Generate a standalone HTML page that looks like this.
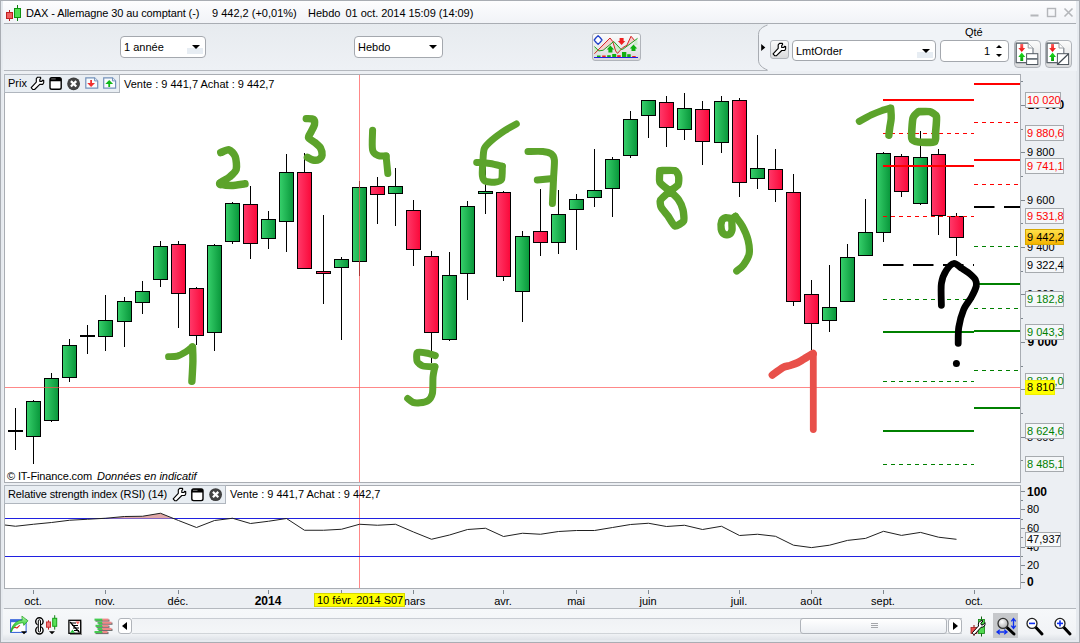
<!DOCTYPE html>
<html><head><meta charset="utf-8"><title>DAX</title>
<style>
*{box-sizing:border-box;margin:0;padding:0}
html,body{width:1080px;height:643px;overflow:hidden;background:#e9edf2;font-family:"Liberation Sans",sans-serif;font-size:11px;color:#000}
#win{position:absolute;left:0;top:0;width:1080px;height:643px;background:#e6eaef;border:1px solid #a9adb3}
.abs{position:absolute}
#title{left:3px;top:1px;width:1073px;height:22px;background:linear-gradient(#fdfdfe,#f1f3f7)}
#tsep{left:4px;top:23px;width:1072px;height:1px;background:#a9adb3}
#toolbar{left:3px;top:24px;width:1073px;height:46px;background:linear-gradient(#e7ebef,#eef1f5)}
#tbsep{left:4px;top:70px;width:1072px;height:1px;background:#b4b8be}
.txt{position:absolute;white-space:pre;line-height:13px;height:13px}
.dd{position:absolute;background:#fff;border:1px solid #a4a8ae;border-radius:4px}
.arrow{position:absolute;width:0;height:0;border-left:4px solid transparent;border-right:4px solid transparent;border-top:4.5px solid #000}
.btn{position:absolute;border:1px solid #b0b4ba;border-radius:3px;background:linear-gradient(#fbfbfb,#d9dadc)}
.pb{position:absolute;border:1px solid #a8a8a8;font-size:11px;line-height:13px;padding-left:1px;padding-top:1px;white-space:pre}
.ax{position:absolute;font-size:11px;line-height:13px;height:13px;white-space:pre}
.axb{font-weight:bold}
.tl{position:absolute;top:595px;font-size:11px;line-height:13px;height:13px;white-space:pre;transform:translateX(-50%)}
</style></head><body>
<div id="win"></div>
<div id="title" class="abs"></div>
<div id="tsep" class="abs"></div>
<div id="toolbar" class="abs"></div>
<div id="tbsep" class="abs"></div>

<!-- title -->
<svg class="abs" style="left:0;top:0" width="30" height="24">
<rect x="9" y="10" width="1" height="11" fill="#b02020"/><rect x="6.5" y="12.5" width="6" height="6" fill="#f06060" stroke="#c02020"/>
<rect x="17" y="5" width="1" height="16" fill="#108010"/><rect x="14.5" y="8.5" width="6" height="9" fill="#50e050" stroke="#109010"/>
</svg>
<div class="txt" id="t_title" style="left:26px;top:7px;letter-spacing:-0.1px">DAX - Allemagne 30 au comptant (-)</div>
<div class="txt" id="t_t2" style="left:212px;top:7px">9 442,2 (+0,01%)</div>
<div class="txt" id="t_t3" style="left:308px;top:7px">Hebdo</div>
<div class="txt" id="t_t4" style="left:345.5px;top:7px;letter-spacing:-0.05px">01 oct. 2014 15:09 (14:09)</div>
<!-- window controls -->
<svg class="abs" style="left:1025px;top:4px" width="52" height="16">
<rect x="5.5" y="10.5" width="8" height="2" fill="#b4b6ba"/>
<rect x="22.5" y="4.5" width="8" height="8" fill="none" stroke="#b4b6ba" stroke-width="1.4"/>
<path d="M39.5 4.5 L47.5 12.5 M47.5 4.5 L39.5 12.5" stroke="#b4b6ba" stroke-width="1.6"/>
</svg>

<!-- toolbar -->
<div class="dd" style="left:120px;top:36px;width:86px;height:22px"></div>
<div class="abs" style="left:187px;top:48px;width:16px;height:6px;background:#e7edf3"></div>
<div class="abs" style="left:424px;top:48px;width:16px;height:6px;background:#e7edf3"></div>
<div class="txt" id="t_annee" style="left:124px;top:41px">1 année</div>
<div class="arrow" style="left:192px;top:45px"></div>
<div class="dd" style="left:354px;top:36px;width:89px;height:22px"></div>
<div class="txt" id="t_hebdo" style="left:358px;top:41px">Hebdo</div>
<div class="arrow" style="left:429px;top:45px"></div>

<div class="btn" style="left:592px;top:33px;width:49px;height:28px"></div>
<svg class="abs" style="left:592px;top:33px" width="49" height="28">
<path d="M2.4 20.75 L18 5 L20.75 8.5 L21.75 8.5 L11.1 17.25 L6.75 17.9 L2.4 13.5 Z" fill="#f8d0d0"/>
<path d="M2.4 13.5 L6.75 17.9 L2.4 20.75 Z" fill="#cdeccd"/>
<path d="M21.75 8.5 L29.25 16.6 L30.5 14.75 L25.5 20.4 L23.6 17.9 L20.75 8.5 Z" fill="#cdeccd"/>
<path d="M31.1 16 L34.9 12.25 L39 3.25 L43 8 L38 11 Z" fill="#f8d0d0"/>
<path d="M43 8 L45.5 5.4 L45.5 12 L41 12 Z" fill="#cdeccd"/>
<path d="M2.4 20.75 L18 5 L20.75 8.5 L23.6 17.9 L25.5 20.4 L30.5 14.75 L34.9 12.25 L39 3.25 L43 8" fill="none" stroke="#d42020" stroke-width="1"/>
<path d="M2.4 13.5 L6.75 17.9 L11.1 17.25 L21.75 8.5 L29.25 16.6 L31.1 16 L38 11 L45.5 5.4" fill="none" stroke="#20a020" stroke-width="1"/>
<path d="M6.100 2.800 L8 4.500 L10 7 L8 9.500 L6.100 11.200 L4.200 9.500 L2.200 7 L4.200 4.500 Z" fill="#fff" stroke="#2040c8" stroke-width="1.300" stroke-linejoin="round"/>
<path d="M27.600 5 h4 v3 h1.700 l-3.700 4 l-3.700 -4 h1.700 z" fill="#f02020"/>
<path d="M16.400 19.500 h4 v-3 h1.700 l-3.700 -4 l-3.700 4 h1.700 z" fill="#10b010"/>
<path d="M39.500 18 h4 v-2.500 h1.700 l-3.700 -4 l-3.700 4 h1.700 z" fill="#10b010"/>
<rect x="5" y="22.500" width="3.500" height="1.500" fill="#10b010"/><rect x="10.200" y="22.500" width="3.500" height="1.500" fill="#f02020"/><rect x="15.200" y="22.200" width="3.500" height="1.800" fill="#10b010"/><rect x="20.200" y="21" width="4" height="3" fill="#10b010"/><rect x="25.200" y="22.200" width="3.500" height="1.800" fill="#f02020"/><rect x="30" y="19" width="4.300" height="5" fill="#10b010"/><rect x="35.200" y="21.200" width="3.500" height="2.800" fill="#10b010"/><rect x="40.200" y="23" width="3.500" height="1" fill="#f02020"/>
<rect x="2" y="24" width="44" height="1" fill="#2020e0"/>
</svg>

<!-- order panel -->
<svg class="abs" style="left:755px;top:24px" width="322" height="47">
<path d="M322 0 L12.500 0 L12.500 1 C7.500 2.800 3.500 5.500 3.500 10.500 L3.500 36 C3.500 41 7.500 44 12.500 46 L12.500 47 L322 47 Z" fill="#f0f3f7" stroke="none"/>
<path d="M12.500 1 C7.500 2.800 3.500 5.500 3.500 10.500 L3.500 36 C3.500 41 7.500 44 12.500 46" fill="none" stroke="#a8acb2" stroke-width="1"/>
<path d="M6.200 20 L10.300 23.500 L6.200 27 Z" fill="#000"/>
</svg>
<div class="btn" style="left:770px;top:40px;width:19px;height:19px"></div>

<div class="dd" style="left:792px;top:40px;width:144px;height:21px"></div>
<div class="abs" style="left:917px;top:52px;width:16px;height:6px;background:#e7edf3"></div>
<div class="txt" id="t_lmt" style="left:796px;top:45px">LmtOrder</div>
<div class="arrow" style="left:921.5px;top:49px"></div>
<div class="txt" id="t_qte" style="left:965px;top:26px">Qté</div>
<div class="dd" style="left:940px;top:40px;width:69px;height:22px"></div>
<div class="txt" style="left:984px;top:45px">1</div>
<div class="arrow" style="left:995.5px;top:45px;border-top:none;border-bottom:3.5px solid #000;border-left-width:3px;border-right-width:3px"></div>
<div class="arrow" style="left:995.5px;top:54px;border-top-width:3.5px;border-left-width:3px;border-right-width:3px"></div>
<div class="btn" style="left:1013.5px;top:40px;width:27px;height:27.5px;border-radius:4px"></div>
<div class="btn" style="left:1044.5px;top:40px;width:27px;height:27.5px;border-radius:4px"></div>
<svg class="abs" style="left:1013px;top:40px" width="60" height="28">
<defs><linearGradient id="ra" x1="0" x2="0" y1="0" y2="1"><stop offset="0" stop-color="#ff6060"/><stop offset="1" stop-color="#e80808"/></linearGradient>
<linearGradient id="gra" x1="0" x2="0" y1="0" y2="1"><stop offset="0" stop-color="#20e020"/><stop offset="1" stop-color="#08a008"/></linearGradient></defs>
<g id="ordic">
<path d="M3.200 3.200 h12 l4.800 4.800 v14.600 h-16.800 z" fill="#fff" stroke="#b8bcc0" stroke-width="1"/>
<path d="M15.200 3.200 H3.200 v19.400 h16.800" fill="none" stroke="#5c646c" stroke-width="1.200"/><path d="M20 8 v14.600" stroke="#7c848c" stroke-width="1"/>
<path d="M15.200 3.200 v4.800 h4.800" fill="none" stroke="#9a9ea4" stroke-width="1"/>
<path d="M7.300 4.100 h2.900 v3.900 h2 l-3.450 3.900 l-3.450 -3.900 h2 z" fill="url(#ra)"/>
<path d="M7.300 21 h2.900 v-4 h2 l-3.450 -4.500 l-3.450 4.500 h2 z" fill="url(#gra)"/>
</g>
<rect x="13.600" y="13.700" width="11.200" height="10.800" fill="#fff" stroke="#505860" stroke-width="1"/>
<rect x="13.600" y="18" width="11.200" height="1.800" fill="#6c747c"/>
<use href="#ordic" x="30.800"/>
<rect x="44.400" y="13.700" width="11.200" height="10.800" fill="#fff" stroke="#505860" stroke-width="1"/>
<path d="M44.400 24.500 L55.600 13.700" stroke="#404850" stroke-width="1.200"/>
</svg>

<!-- chart panel -->
<div class="abs" style="left:3px;top:71px;width:1073px;height:537px;background:#eceff3"></div>
<div class="abs" style="left:4px;top:74px;width:1017px;height:409px;background:#fff;border:1px solid #a9adb3"></div>
<div class="abs" style="left:4px;top:485px;width:1017px;height:104px;background:#fff;border:1px solid #a9adb3"></div>
<div class="abs" style="left:4px;top:74px;width:116px;height:19px;background:#e9eef3;border:1px solid #b0b6be"></div>
<div class="abs" style="left:4px;top:485px;width:222px;height:19px;background:#e9eef3;border:1px solid #b0b6be"></div>

<svg class="abs" style="left:0;top:0" width="1080" height="643" id="chart">
<defs>
<linearGradient id="gg" x1="0" x2="1" y1="0" y2="0"><stop offset="0" stop-color="#37d06b"/><stop offset="1" stop-color="#08963a"/></linearGradient>
<linearGradient id="rg" x1="0" x2="1" y1="0" y2="0"><stop offset="0" stop-color="#ff3a6a"/><stop offset="1" stop-color="#fa0839"/></linearGradient>
</defs>
<!-- crosshair -->
<rect x="15" y="408" width="1" height="42" fill="#000"/>
<rect x="8" y="430" width="15" height="2" fill="#000"/>
<rect x="33" y="400" width="1" height="64" fill="#000"/>
<rect x="26.5" y="401.5" width="14" height="35" fill="url(#gg)" stroke="#000" stroke-width="1"/>
<rect x="51" y="373" width="1" height="49" fill="#000"/>
<rect x="44.5" y="378.5" width="14" height="42" fill="url(#gg)" stroke="#000" stroke-width="1"/>
<rect x="69" y="339" width="1" height="43" fill="#000"/>
<rect x="62.5" y="345.5" width="14" height="32" fill="url(#gg)" stroke="#000" stroke-width="1"/>
<rect x="87" y="325" width="1" height="29" fill="#000"/>
<rect x="80" y="335" width="15" height="2" fill="#000"/>
<rect x="105" y="295" width="1" height="56" fill="#000"/>
<rect x="98.5" y="320.5" width="14" height="16" fill="url(#gg)" stroke="#000" stroke-width="1"/>
<rect x="124" y="297" width="1" height="50" fill="#000"/>
<rect x="117.5" y="301.5" width="14" height="20" fill="url(#gg)" stroke="#000" stroke-width="1"/>
<rect x="142" y="281" width="1" height="33" fill="#000"/>
<rect x="135.5" y="291.5" width="14" height="11" fill="url(#gg)" stroke="#000" stroke-width="1"/>
<rect x="160" y="241" width="1" height="46" fill="#000"/>
<rect x="153.5" y="246.5" width="14" height="33" fill="url(#gg)" stroke="#000" stroke-width="1"/>
<rect x="178" y="241" width="1" height="87" fill="#000"/>
<rect x="171.5" y="244.5" width="14" height="49" fill="url(#rg)" stroke="#000" stroke-width="1"/>
<rect x="196" y="287" width="1" height="58" fill="#000"/>
<rect x="189.5" y="288.5" width="14" height="47" fill="url(#rg)" stroke="#000" stroke-width="1"/>
<rect x="214" y="244" width="1" height="107" fill="#000"/>
<rect x="207.5" y="245.5" width="14" height="87" fill="url(#gg)" stroke="#000" stroke-width="1"/>
<rect x="232" y="202" width="1" height="42" fill="#000"/>
<rect x="225.5" y="203.5" width="14" height="38" fill="url(#gg)" stroke="#000" stroke-width="1"/>
<rect x="250" y="186" width="1" height="73" fill="#000"/>
<rect x="243.5" y="204.5" width="14" height="39" fill="url(#rg)" stroke="#000" stroke-width="1"/>
<rect x="268" y="211" width="1" height="38" fill="#000"/>
<rect x="261.5" y="219.5" width="14" height="19" fill="url(#gg)" stroke="#000" stroke-width="1"/>
<rect x="286" y="154" width="1" height="98" fill="#000"/>
<rect x="279.5" y="172.5" width="14" height="49" fill="url(#gg)" stroke="#000" stroke-width="1"/>
<rect x="304" y="153" width="1" height="115" fill="#000"/>
<rect x="297.5" y="172.5" width="14" height="96" fill="url(#rg)" stroke="#000" stroke-width="1"/>
<rect x="323" y="215" width="1" height="89" fill="#000"/>
<rect x="316.5" y="271.5" width="14" height="2" fill="url(#rg)" stroke="#000" stroke-width="1"/>
<rect x="341" y="257" width="1" height="83" fill="#000"/>
<rect x="334.5" y="259.5" width="14" height="8" fill="url(#gg)" stroke="#000" stroke-width="1"/>
<rect x="359" y="181" width="1" height="95" fill="#000"/>
<rect x="352.5" y="187.5" width="14" height="74" fill="url(#gg)" stroke="#000" stroke-width="1"/>
<rect x="377" y="177" width="1" height="47" fill="#000"/>
<rect x="370.5" y="186.5" width="14" height="8" fill="url(#rg)" stroke="#000" stroke-width="1"/>
<rect x="395" y="168" width="1" height="58" fill="#000"/>
<rect x="388.5" y="186.5" width="14" height="7" fill="url(#gg)" stroke="#000" stroke-width="1"/>
<rect x="413" y="200" width="1" height="66" fill="#000"/>
<rect x="406.5" y="210.5" width="14" height="39" fill="url(#rg)" stroke="#000" stroke-width="1"/>
<rect x="431" y="251" width="1" height="112" fill="#000"/>
<rect x="424.5" y="256.5" width="14" height="76" fill="url(#rg)" stroke="#000" stroke-width="1"/>
<rect x="449" y="252" width="1" height="89" fill="#000"/>
<rect x="442.5" y="275.5" width="14" height="64" fill="url(#gg)" stroke="#000" stroke-width="1"/>
<rect x="467" y="201" width="1" height="99" fill="#000"/>
<rect x="460.5" y="206.5" width="14" height="67" fill="url(#gg)" stroke="#000" stroke-width="1"/>
<rect x="485" y="165" width="1" height="49" fill="#000"/>
<rect x="478.5" y="191.5" width="14" height="2" fill="url(#gg)" stroke="#000" stroke-width="1"/>
<rect x="503" y="191" width="1" height="90" fill="#000"/>
<rect x="496.5" y="192.5" width="14" height="84" fill="url(#rg)" stroke="#000" stroke-width="1"/>
<rect x="522" y="231" width="1" height="91" fill="#000"/>
<rect x="515.5" y="236.5" width="14" height="55" fill="url(#gg)" stroke="#000" stroke-width="1"/>
<rect x="540" y="189" width="1" height="67" fill="#000"/>
<rect x="533.5" y="231.5" width="14" height="11" fill="url(#rg)" stroke="#000" stroke-width="1"/>
<rect x="558" y="190" width="1" height="64" fill="#000"/>
<rect x="551.5" y="214.5" width="14" height="28" fill="url(#gg)" stroke="#000" stroke-width="1"/>
<rect x="576" y="194" width="1" height="56" fill="#000"/>
<rect x="569.5" y="199.5" width="14" height="10" fill="url(#gg)" stroke="#000" stroke-width="1"/>
<rect x="594" y="149" width="1" height="58" fill="#000"/>
<rect x="587.5" y="190.5" width="14" height="7" fill="url(#gg)" stroke="#000" stroke-width="1"/>
<rect x="612" y="157" width="1" height="60" fill="#000"/>
<rect x="605.5" y="159.5" width="14" height="29" fill="url(#gg)" stroke="#000" stroke-width="1"/>
<rect x="630" y="111" width="1" height="47" fill="#000"/>
<rect x="623.5" y="119.5" width="14" height="36" fill="url(#gg)" stroke="#000" stroke-width="1"/>
<rect x="648" y="100" width="1" height="38" fill="#000"/>
<rect x="641.5" y="100.5" width="14" height="15" fill="url(#gg)" stroke="#000" stroke-width="1"/>
<rect x="666" y="96" width="1" height="51" fill="#000"/>
<rect x="659.5" y="102.5" width="14" height="25" fill="url(#rg)" stroke="#000" stroke-width="1"/>
<rect x="684" y="93" width="1" height="47" fill="#000"/>
<rect x="677.5" y="108.5" width="14" height="21" fill="url(#gg)" stroke="#000" stroke-width="1"/>
<rect x="702" y="101" width="1" height="64" fill="#000"/>
<rect x="695.5" y="109.5" width="14" height="32" fill="url(#rg)" stroke="#000" stroke-width="1"/>
<rect x="721" y="96" width="1" height="57" fill="#000"/>
<rect x="714.5" y="101.5" width="14" height="41" fill="url(#gg)" stroke="#000" stroke-width="1"/>
<rect x="739" y="98" width="1" height="99" fill="#000"/>
<rect x="732.5" y="100.5" width="14" height="82" fill="url(#rg)" stroke="#000" stroke-width="1"/>
<rect x="757" y="135" width="1" height="54" fill="#000"/>
<rect x="750.5" y="168.5" width="14" height="10" fill="url(#gg)" stroke="#000" stroke-width="1"/>
<rect x="775" y="149" width="1" height="53" fill="#000"/>
<rect x="768.5" y="169.5" width="14" height="20" fill="url(#rg)" stroke="#000" stroke-width="1"/>
<rect x="793" y="174" width="1" height="132" fill="#000"/>
<rect x="786.5" y="192.5" width="14" height="109" fill="url(#rg)" stroke="#000" stroke-width="1"/>
<rect x="811" y="280" width="1" height="70" fill="#000"/>
<rect x="804.5" y="294.5" width="14" height="29" fill="url(#rg)" stroke="#000" stroke-width="1"/>
<rect x="829" y="265" width="1" height="67" fill="#000"/>
<rect x="822.5" y="307.5" width="14" height="13" fill="url(#gg)" stroke="#000" stroke-width="1"/>
<rect x="847" y="244" width="1" height="58" fill="#000"/>
<rect x="840.5" y="257.5" width="14" height="44" fill="url(#gg)" stroke="#000" stroke-width="1"/>
<rect x="865" y="199" width="1" height="57" fill="#000"/>
<rect x="858.5" y="232.5" width="14" height="23" fill="url(#gg)" stroke="#000" stroke-width="1"/>
<rect x="883" y="152" width="1" height="90" fill="#000"/>
<rect x="876.5" y="153.5" width="14" height="79" fill="url(#gg)" stroke="#000" stroke-width="1"/>
<rect x="901" y="154" width="1" height="43" fill="#000"/>
<rect x="894.5" y="156.5" width="14" height="35" fill="url(#rg)" stroke="#000" stroke-width="1"/>
<rect x="920" y="131" width="1" height="74" fill="#000"/>
<rect x="913.5" y="157.5" width="14" height="46" fill="url(#gg)" stroke="#000" stroke-width="1"/>
<rect x="938" y="149" width="1" height="86" fill="#000"/>
<rect x="931.5" y="154.5" width="14" height="61" fill="url(#rg)" stroke="#000" stroke-width="1"/>
<rect x="956" y="213" width="1" height="43" fill="#000"/>
<rect x="949.5" y="216.5" width="14" height="21" fill="url(#rg)" stroke="#000" stroke-width="1"/>
<rect x="974" y="83" width="46" height="2" fill="#ff0000"/>
<rect x="883" y="99" width="91" height="2" fill="#ff0000"/>
<line x1="974" x2="1020" y1="122.5" y2="122.5" stroke="#ff0000" stroke-width="1" stroke-dasharray="4 4"/>
<line x1="883" x2="974" y1="133.5" y2="133.5" stroke="#ff0000" stroke-width="1" stroke-dasharray="4 4"/>
<rect x="974" y="159" width="46" height="2" fill="#ff0000"/>
<rect x="883" y="165" width="91" height="2" fill="#ff0000"/>
<line x1="974" x2="1020" y1="184.5" y2="184.5" stroke="#ff0000" stroke-width="1" stroke-dasharray="4 4"/>
<line x1="883" x2="974" y1="216.5" y2="216.5" stroke="#ff0000" stroke-width="1" stroke-dasharray="4 4"/>
<line x1="974" x2="1020" y1="207" y2="207" stroke="#000" stroke-width="2" stroke-dasharray="20.5 9.5"/>
<line x1="883" x2="974" y1="265" y2="265" stroke="#000" stroke-width="2" stroke-dasharray="20.5 9.5"/>
<line x1="974" x2="1020" y1="246.5" y2="246.5" stroke="#008000" stroke-width="1" stroke-dasharray="4 4"/>
<rect x="974" y="283" width="46" height="2" fill="#008000"/>
<line x1="883" x2="974" y1="299.5" y2="299.5" stroke="#008000" stroke-width="1" stroke-dasharray="4 4"/>
<line x1="974" x2="1020" y1="308.5" y2="308.5" stroke="#008000" stroke-width="1" stroke-dasharray="4 4"/>
<rect x="883" y="331" width="91" height="2" fill="#008000"/>
<rect x="974" y="330" width="46" height="2" fill="#008000"/>
<line x1="974" x2="1020" y1="370.5" y2="370.5" stroke="#008000" stroke-width="1" stroke-dasharray="4 4"/>
<line x1="883" x2="974" y1="381.5" y2="381.5" stroke="#008000" stroke-width="1" stroke-dasharray="4 4"/>
<rect x="974" y="407" width="46" height="2" fill="#008000"/>
<rect x="883" y="430" width="91" height="2" fill="#008000"/>
<line x1="883" x2="974" y1="464.5" y2="464.5" stroke="#008000" stroke-width="1" stroke-dasharray="4 4"/>
<rect x="5" y="387" width="1015" height="1" fill="#ff5050" opacity="0.68"/>
<rect x="359" y="75" width="1" height="407" fill="#ff5050" opacity="0.68"/>
<rect x="359" y="486" width="1" height="102" fill="#ff5050" opacity="0.68"/>
<path d="M168.5,356.7 C170.0,356.6 174.5,356.9 177.4,356.1 C180.3,355.3 183.6,353.2 186.1,351.7 C188.6,350.2 191.3,347.7 192.3,346.9" fill="none" stroke="#5ca32b" stroke-width="6.8" stroke-linecap="round" stroke-linejoin="round"/>
<path d="M192.5,346.9 C192.6,349.2 193.0,355.2 192.9,361 C192.8,366.8 192.1,378.0 191.9,381.4" fill="none" stroke="#5ca32b" stroke-width="7.4" stroke-linecap="round" stroke-linejoin="round"/>
<path d="M220.8,152.6 C221.9,152.2 227.1,149.3 229,149.8 C230.9,150.3 234.2,153.9 235.2,156.5 C236.2,159.1 237.0,166.8 236.2,169.5 C235.4,172.2 231.7,175.1 229.5,177 C227.3,178.9 219.5,182.5 219.8,183.6 C220.1,184.7 228.1,185.6 231.5,185.6 C234.9,185.6 243.2,184.0 245,183.8" fill="none" stroke="#5ca32b" stroke-width="7.5" stroke-linecap="round" stroke-linejoin="round"/>
<circle cx="220.5" cy="183.8" r="4.6" fill="#5ca32b"/>
<path d="M306.3,118.6 C307.2,118.7 312.3,118.4 313.4,119.2 C314.5,120.0 314.8,122.9 314.5,124.6 C314.2,126.3 312.0,130.0 311.2,131.7 C310.4,133.4 308.0,136.2 308.5,137.7 C309.0,139.2 313.5,141.2 315.1,142.6 C316.7,144.0 319.6,146.3 320.5,148 C321.4,149.7 322.3,153.6 322.1,155.1 C321.9,156.6 320.1,158.8 318.9,159.5 C317.7,160.2 314.4,160.3 312.9,160 C311.4,159.7 308.1,157.7 307.4,157.3" fill="none" stroke="#5ca32b" stroke-width="7.4" stroke-linecap="round" stroke-linejoin="round"/>
<path d="M372.6,130.3 C372.6,133.6 371.7,145.9 372.6,150.1 C373.5,154.3 375.8,154.5 378,155.5 C380.2,156.5 384.8,155.9 386.1,156" fill="none" stroke="#5ca32b" stroke-width="7" stroke-linecap="round" stroke-linejoin="round"/>
<path d="M386.1,156 C386.4,158.9 387.5,170.6 387.8,173.5" fill="none" stroke="#5ca32b" stroke-width="7" stroke-linecap="round" stroke-linejoin="round"/>
<path d="M435.3,355.6 C434.4,355.3 427.8,353.3 426,353 C424.2,352.7 418.1,351.7 417.2,352.6 C416.3,353.5 416.6,360.3 417.2,361.6 C417.8,362.9 421.2,365.5 423,366 C424.8,366.5 433.7,366.7 434.9,366.8" fill="none" stroke="#5ca32b" stroke-width="7" stroke-linecap="round" stroke-linejoin="round"/>
<path d="M434.9,366.8 C434.6,368.2 433.3,373.7 433,377.3 C432.7,380.9 433.1,390.4 432.4,393.5 C431.7,396.6 429.7,399.4 428,400.6 C426.3,401.8 422.0,402.6 420,402.8 C418.0,403.0 414.6,403.0 413,402.4 C411.4,401.8 408.4,399.0 407.7,398.5" fill="none" stroke="#5ca32b" stroke-width="7" stroke-linecap="round" stroke-linejoin="round"/>
<path d="M516.3,124 C514.8,124.8 507.7,128.6 504.7,130.6 C501.7,132.6 494.7,137.7 492.2,139.9 C489.7,142.1 485.6,145.7 484.4,148.4 C483.2,151.1 483.1,158.3 482.9,161.7 C482.6,165.1 482.1,173.3 482.4,175.7 C482.7,178.1 483.7,180.3 485.2,181.1 C486.7,181.9 492.5,182.4 494.5,182.2 C496.5,182.0 500.5,181.5 501.5,179.5 C502.5,177.5 502.2,168.0 502.3,166.3" fill="none" stroke="#5ca32b" stroke-width="7" stroke-linecap="round" stroke-linejoin="round"/>
<path d="M476.7,162.4 C478.9,162.6 485.6,162.8 489.9,163.5 C494.2,164.2 500.2,165.8 502.3,166.3" fill="none" stroke="#5ca32b" stroke-width="7" stroke-linecap="round" stroke-linejoin="round"/>
<path d="M528,151.5 C530.0,151.5 539.7,151.2 542.8,151.5 C545.9,151.8 549.8,152.8 551.3,153.9 C552.8,155.0 554.1,157.0 554.4,160.1 C554.7,163.2 553.8,172.8 553.6,177.2 C553.4,181.6 553.1,189.3 552.9,192.8 C552.7,196.3 552.5,202.2 552.4,203.6" fill="none" stroke="#5ca32b" stroke-width="7" stroke-linecap="round" stroke-linejoin="round"/>
<path d="M537.3,180 C540.0,179.8 550.7,178.8 553.4,178.5" fill="none" stroke="#5ca32b" stroke-width="7" stroke-linecap="round" stroke-linejoin="round"/>
<path d="M659.9,170.6 C661.4,170.6 673.0,170.0 674.9,170.6 C676.8,171.2 678.3,174.8 678.6,176.2 C678.9,177.6 678.9,183.4 678,184.9 C677.1,186.4 671.6,189.6 669.9,191.1 C668.2,192.6 661.5,198.3 660.6,199.9 C659.7,201.5 660.5,205.7 661.2,207.3 C661.9,208.9 666.6,214.1 668,216 C669.4,217.9 673.3,225.5 674.9,226 C676.5,226.5 682.8,222.6 683.6,221 C684.4,219.4 683.5,211.9 683,209.8 C682.5,207.7 679.9,201.8 678.6,199.9 C677.3,198.0 671.8,192.8 669.9,191.1 C668.0,189.3 660.9,184.5 659.9,182.4 C658.9,180.3 659.9,171.8 659.9,170.6" fill="none" stroke="#5ca32b" stroke-width="7.4" stroke-linecap="round" stroke-linejoin="round"/>
<path d="M735.5,216.5 C735.0,216.8 733.0,218.4 731.7,218.5 C730.4,218.6 727.3,217.3 726,217.6 C724.7,217.9 722.3,219.5 721.7,221 C721.1,222.5 720.9,227.3 721.2,229 C721.5,230.7 723.0,233.3 724,234 C725.0,234.7 727.9,235.0 729,234.5 C730.1,234.0 731.6,231.8 732,230 C732.4,228.2 731.5,222.8 732,221 C732.5,219.2 735.0,217.1 735.5,216.5" fill="none" stroke="#5ca32b" stroke-width="7.4" stroke-linecap="round" stroke-linejoin="round"/>
<path d="M735.5,216.5 C736.6,218.1 740.3,222.3 742.4,226.2 C744.5,230.1 746.9,235.3 748,239.9 C749.1,244.5 749.9,249.4 749.2,253.6 C748.5,257.8 745.7,261.9 743.6,264.8 C741.5,267.7 737.9,270.0 736.8,271" fill="none" stroke="#5ca32b" stroke-width="7.2" stroke-linecap="round" stroke-linejoin="round"/>
<path d="M859.3,121.4 C860.9,120.5 868.3,116.3 871.3,114.9 C874.3,113.5 878.9,111.6 881.5,110.7 C884.1,109.8 889.3,108.5 890.5,108.2" fill="none" stroke="#5ca32b" stroke-width="7" stroke-linecap="round" stroke-linejoin="round"/>
<path d="M890.7,108.2 C890.8,109.8 891.4,114.9 891.2,118.1 C891.1,121.3 890.2,124.5 889.8,127.4 C889.4,130.3 889.0,134.0 888.9,135.3" fill="none" stroke="#5ca32b" stroke-width="7.4" stroke-linecap="round" stroke-linejoin="round"/>
<path d="M918.5,111.7 C919.6,111.7 927.8,111.2 929.6,111.7 C931.4,112.2 935.8,114.3 936.4,116.3 C937.0,118.3 935.8,129.5 935.6,132 C935.4,134.5 936.4,140.7 934.7,141.7 C933.0,142.7 920.8,142.4 918.5,142.1 C916.2,141.8 912.3,140.9 911.8,138.5 C911.2,136.1 912.3,120.8 913,118.1 C913.7,115.4 918.0,112.3 918.5,111.7" fill="none" stroke="#5ca32b" stroke-width="7.6" stroke-linecap="round" stroke-linejoin="round"/>
<path d="M772.4,375 C773.8,374.0 780.7,368.8 783,367.5 C785.3,366.2 788.1,366.1 790,365.5 C791.9,364.9 795.6,363.7 797.5,362.8 C799.4,361.9 801.9,360.2 804,359 C806.1,357.8 811.8,354.3 813,353.6" fill="none" stroke="#e8504a" stroke-width="7.6" stroke-linecap="round" stroke-linejoin="round"/>
<path d="M813.3,353.6 C813.3,366.2 813.3,416.9 813.3,429.5" fill="none" stroke="#e8504a" stroke-width="6.8" stroke-linecap="round" stroke-linejoin="round"/>
<path d="M941.4,305.3 C941.4,302.2 940.7,288.4 941.4,283.5 C942.1,278.6 944.4,273.3 946.2,270.5 C948.0,267.7 951.6,263.8 953.8,263.5 C956.0,263.2 959.7,267.0 962,268.5 C964.3,270.0 968.1,272.4 970,274 C971.9,275.6 974.4,277.8 975.3,279.5 C976.2,281.2 976.8,283.5 976.3,286 C975.8,288.5 973.3,293.6 971.5,297 C969.7,300.4 965.4,305.4 963.6,309.7 C961.8,314.0 959.6,322.3 958.8,327.1 C958.0,331.9 958.3,341.1 958.2,343.4" fill="none" stroke="#000" stroke-width="6.8" stroke-linecap="round" stroke-linejoin="round"/>
<circle cx="956.4" cy="363.4" r="3.5" fill="#000"/>
<!-- RSI -->
<rect x="5" y="518" width="1015" height="1" fill="#2020e0"/>
<rect x="5" y="556" width="1015" height="1" fill="#2020e0"/>
<path d="M105.5,518.5 L124.5,516.5 L142.5,516.25 L160.5,513.25 L173,518.5Z" fill="#e0a8a8"/>
<path d="M5,525 L15.5,526.25 L33.5,524.25 L51.5,522.5 L69.5,520.25 L87.5,519.25 L105.5,518.25 L124.5,516.5 L142.5,516.25 L160.5,513.25 L178.5,520.5 L196.5,527.5 L214.5,520.5 L232.5,518.25 L250.5,523.5 L268.5,521.25 L286.5,518.5 L304.5,530.25 L323.5,530.25 L341.5,529.25 L359.5,524.25 L377.5,525.25 L395.5,524.25 L413.5,532 L431.5,539.25 L449.5,535 L467.5,529.5 L485.5,528.25 L503.5,536.5 L522.5,533.25 L540.5,534.25 L558.5,531.5 L576.5,530.5 L594.5,530.5 L612.5,527.5 L630.5,524.5 L648.5,523.25 L666.5,526.5 L684.5,525.25 L702.5,529.5 L721.5,526.25 L739.5,535.5 L757.5,534.25 L775.5,536.3 L793.5,545.2 L811.5,547.6 L829.5,545.2 L847.5,540.4 L865.5,538.4 L883.5,531.3 L901.5,535.4 L920.5,532.4 L938.5,537.2 L956.5,539.3" fill="none" stroke="#202020" stroke-width="1"/>
<!-- axis ticks -->
<g fill="#808890">
<rect x="1021" y="105" width="4" height="1"/><rect x="1021" y="152" width="4" height="1"/><rect x="1021" y="200" width="4" height="1"/><rect x="1021" y="247" width="4" height="1"/><rect x="1021" y="294" width="4" height="1"/><rect x="1021" y="342" width="4" height="1"/><rect x="1021" y="389" width="4" height="1"/><rect x="1021" y="437" width="4" height="1"/>
<rect x="1021" y="129" width="2" height="1"/><rect x="1021" y="176" width="2" height="1"/><rect x="1021" y="223" width="2" height="1"/><rect x="1021" y="271" width="2" height="1"/><rect x="1021" y="318" width="2" height="1"/><rect x="1021" y="366" width="2" height="1"/><rect x="1021" y="413" width="2" height="1"/><rect x="1021" y="460" width="2" height="1"/><rect x="1021" y="81" width="2" height="1"/>
<rect x="1021" y="491" width="4" height="1"/><rect x="1021" y="509" width="4" height="1"/><rect x="1021" y="528" width="4" height="1"/><rect x="1021" y="547" width="4" height="1"/><rect x="1021" y="565" width="4" height="1"/><rect x="1021" y="582" width="4" height="1"/>
<rect x="1021" y="500" width="2" height="1"/><rect x="1021" y="519" width="2" height="1"/><rect x="1021" y="537" width="2" height="1"/><rect x="1021" y="556" width="2" height="1"/><rect x="1021" y="574" width="2" height="1"/>
<!-- time ticks -->
<rect x="33" y="590" width="1" height="4"/><rect x="105" y="590" width="1" height="4"/><rect x="178" y="590" width="1" height="4"/><rect x="268" y="590" width="1" height="4"/><rect x="341" y="590" width="1" height="4"/><rect x="413" y="590" width="1" height="4"/><rect x="503" y="590" width="1" height="4"/><rect x="576" y="590" width="1" height="4"/><rect x="648" y="590" width="1" height="4"/><rect x="739" y="590" width="1" height="4"/><rect x="811" y="590" width="1" height="4"/><rect x="883" y="590" width="1" height="4"/><rect x="974" y="590" width="1" height="4"/>
</g>
</svg>

<!-- panel header -->
<div class="txt" id="t_prix" style="left:8px;top:77px">Prix</div>
<svg class="abs" style="left:0;top:0" width="1080" height="643">
<path transform="translate(31.2,77.2)" d="M0 10.5 L1.5 12.3 L3.4 12.3 L8.6 7.1 L11.6 7.1 L12.5 5.6 L12.5 3.2 L11.2 3 L10.8 4.1 L8.6 4.1 L8.6 2.3 L9.5 1.1 L9.35 0 L6.4 0 L5.1 1.5 L5.1 4.900 Z" fill="#fff" stroke="#000" stroke-width="1.15" stroke-linejoin="round"/>
<rect x="50" y="77.7" width="11.200" height="11.600" rx="1.800" fill="#fff" stroke="#000" stroke-width="1.400"/><path d="M50 81.3 v-1.800 a1.800 1.800 0 0 1 1.800 -1.800 h7.600 a1.800 1.800 0 0 1 1.800 1.800 v1.800 z" fill="#000"/><rect x="51.2" y="78.60000000000001" width="4.500" height="0.700" fill="#aaa"/>
<circle cx="73.6" cy="83.8" r="6.400" fill="#3c3c3c"/><circle cx="73.6" cy="83.8" r="5.600" fill="#444"/><path d="M70.89999999999999 81.1 L76.3 86.5 M76.3 81.1 L70.89999999999999 86.5" stroke="#fff" stroke-width="2.200"/>
<g id="docr"><path d="M85.800 77.800 h8.800 l3.100 3.100 v7.300 h-11.900 z" fill="#f9fbfd" stroke="#7391ba" stroke-width="1.200"/><path d="M94.600 77.800 v3.100 h3.100" fill="#e8eef6" stroke="#7391ba" stroke-width="1"/></g>
<path d="M90.200 79.900 h1.800 v3.100 h3 l-3.900 4 l-3.900 -4 h3 z" fill="#f03030"/>
<use href="#docr" x="17.900"/>
<path d="M108.300 86.900 h1.800 v-3 h3 l-3.900 -4 l-3.900 4 h3 z" fill="#10b818"/>
<path transform="translate(173.2,488.4)" d="M0 10.5 L1.5 12.3 L3.4 12.3 L8.6 7.1 L11.6 7.1 L12.5 5.6 L12.5 3.2 L11.2 3 L10.8 4.1 L8.6 4.1 L8.6 2.3 L9.5 1.1 L9.35 0 L6.4 0 L5.1 1.5 L5.1 4.900 Z" fill="#fff" stroke="#000" stroke-width="1.15" stroke-linejoin="round"/>
<rect x="191.8" y="489" width="11.200" height="11.600" rx="1.800" fill="#fff" stroke="#000" stroke-width="1.400"/><path d="M191.8 492.6 v-1.800 a1.800 1.800 0 0 1 1.800 -1.800 h7.600 a1.800 1.800 0 0 1 1.800 1.800 v1.800 z" fill="#000"/><rect x="193.0" y="489.9" width="4.500" height="0.700" fill="#aaa"/>
<circle cx="215.6" cy="494.6" r="6.400" fill="#3c3c3c"/><circle cx="215.6" cy="494.6" r="5.600" fill="#444"/><path d="M212.9 491.90000000000003 L218.29999999999998 497.3 M218.29999999999998 491.90000000000003 L212.9 497.3" stroke="#fff" stroke-width="2.200"/>
<path transform="translate(773.1,43.4)" d="M0 10.5 L1.5 12.3 L3.4 12.3 L8.6 7.1 L11.6 7.1 L12.5 5.6 L12.5 3.2 L11.2 3 L10.8 4.1 L8.6 4.1 L8.6 2.3 L9.5 1.1 L9.35 0 L6.4 0 L5.1 1.5 L5.1 4.900 Z" fill="#fff" stroke="#000" stroke-width="1.15" stroke-linejoin="round"/>
</svg>
<div class="txt" id="t_vente" style="left:124px;top:78px">Vente : 9 441,7 Achat : 9 442,7</div>
<div class="txt" id="t_copy" style="left:7px;top:470px;letter-spacing:-0.12px">© IT-Finance.com</div><div class="txt" id="t_copy2" style="left:97px;top:470px"><i>Données en indicatif</i></div>

<div class="txt" id="t_rsi" style="left:8px;top:488px;letter-spacing:-0.12px">Relative strength index (RSI) (14)</div>

<div class="txt" id="t_vente2" style="left:230px;top:488px">Vente : 9 441,7 Achat : 9 442,7</div>

<!-- price axis -->
<div class="ax axb" style="left:1027.5px;top:99px;font-size:12px">10 000</div>
<div class="ax" style="left:1027px;top:146px">9 800</div>
<div class="ax" style="left:1027px;top:194px">9 600</div>
<div class="ax" style="left:1027px;top:241px">9 400</div>
<div class="ax" style="left:1027px;top:288px">9 200</div>
<div class="ax axb" style="left:1027.5px;top:336px;font-size:12px">9 000</div>
<div class="ax" style="left:1027px;top:383px">8 800</div>
<div class="ax" style="left:1027px;top:431px">8 600</div>
<div class="pb" style="left:1025px;top:92px;width:36px;height:16px;color:#ff0000;background:#f5f7f9;border-color:#a6aaae;">10 020</div>
<div class="pb" style="left:1025px;top:125px;width:39px;height:16px;color:#ff0000;background:#f5f7f9;border-color:#a6aaae;">9 880,6</div>
<div class="pb" style="left:1025px;top:158px;width:39px;height:16px;color:#ff0000;background:#f5f7f9;border-color:#a6aaae;">9 741,1</div>
<div class="pb" style="left:1025px;top:208px;width:39px;height:16px;color:#ff0000;background:#f5f7f9;border-color:#a6aaae;">9 531,8</div>
<div class="pb" style="left:1025px;top:229px;width:39px;height:16px;color:#000;background:linear-gradient(#ffe14a,#f5b400);border-color:#d8a800;">9 442,2</div>
<div class="pb" style="left:1025px;top:257px;width:39px;height:16px;color:#000;background:#f5f7f9;border-color:#a6aaae;">9 322,4</div>
<div class="pb" style="left:1025px;top:291px;width:39px;height:16px;color:#008000;background:#f5f7f9;border-color:#a6aaae;">9 182,8</div>
<div class="pb" style="left:1025px;top:324px;width:39px;height:16px;color:#008000;background:#f5f7f9;border-color:#a6aaae;">9 043,3</div>
<div class="pb" style="left:1025px;top:373px;width:39px;height:16px;color:#008000;background:#f5f7f9;border-color:#a6aaae;">8 834,0</div>
<div class="pb" style="left:1025px;top:380px;width:30px;height:15px;color:#000;background:#ffff00;border-color:#f0f000;padding-top:0">8 810</div>
<div class="pb" style="left:1025px;top:423px;width:39px;height:16px;color:#008000;background:#f5f7f9;border-color:#a6aaae;">8 624,6</div>
<div class="pb" style="left:1025px;top:456px;width:39px;height:16px;color:#008000;background:#f5f7f9;border-color:#a6aaae;">8 485,1</div>

<div class="ax axb" style="left:1027px;top:486px;font-size:12px">100</div>
<div class="ax" style="left:1027px;top:503px">80</div>
<div class="ax" style="left:1027px;top:522px">60</div>
<div class="ax" style="left:1027px;top:541px">40</div>
<div class="ax" style="left:1027px;top:559px">20</div>
<div class="ax axb" style="left:1027px;top:576px;font-size:12px">0</div>
<div class="pb" style="left:1025px;top:532px;width:36px;height:15px;color:#000;background:#f8fafb;border-color:#a6aaae;padding-top:0">47,937</div>

<!-- time axis -->
<div class="tl" style="left:33px">oct.</div>
<div class="tl" style="left:105px">nov.</div>
<div class="tl" style="left:178px">déc.</div>
<div class="tl axb" style="left:268px;font-size:12px">2014</div>
<div class="tl" style="left:413px">mars</div>
<div class="tl" style="left:503px">avr.</div>
<div class="tl" style="left:576px">mai</div>
<div class="tl" style="left:648px">juin</div>
<div class="tl" style="left:739px">juil.</div>
<div class="tl" style="left:811px">août</div>
<div class="tl" style="left:883px">sept.</div>
<div class="tl" style="left:974px">oct.</div>
<div class="abs" style="left:314px;top:593px;width:91px;height:14px;background:#ffff00;border:1px solid #d8d800"></div>
<div class="txt" id="t_date" style="left:317px;top:594px">10 févr. 2014 S07</div>

<!-- bottom toolbar -->
<div class="abs" style="left:4px;top:608px;width:1072px;height:1px;background:#b4b8be"></div>
<div class="abs" style="left:3px;top:609px;width:1073px;height:31px;background:linear-gradient(#f6f8fa,#f1f3f6 80%,#dfe3e8)"></div>
<div class="abs" style="left:132px;top:618px;width:830px;height:16px;background:linear-gradient(#f0f2f5,#f4f6f8);border-top:1px solid #c8ccd2;border-bottom:1px solid #d0d4d8"></div>
<div class="btn" style="left:118px;top:618px;width:14px;height:16px;background:#fff"></div>
<div class="abs" style="left:122px;top:622px;width:0;height:0;border-top:4px solid transparent;border-bottom:4px solid transparent;border-right:5px solid #000"></div>
<div class="btn" style="left:800px;top:618px;width:147px;height:16px;background:linear-gradient(#ffffff,#eceff3)"></div>
<div class="abs" style="left:870.500px;top:623px;width:7px;height:1px;background:#a4a6aa;box-shadow:0 2px 0 #a4a6aa,0 4px 0 #a4a6aa"></div>
<div class="btn" style="left:948px;top:618px;width:14px;height:16px;background:#fff"></div>
<div class="abs" style="left:953px;top:622px;width:0;height:0;border-top:4px solid transparent;border-bottom:4px solid transparent;border-left:5px solid #000"></div>
<svg class="abs" style="left:0;top:610px" width="1080" height="31" id="bicons">
<!-- icon1: window + green arrow -->
<defs><linearGradient id="ga" x1="0" x2="0" y1="0" y2="1"><stop offset="0" stop-color="#b8f4b0"/><stop offset="0.5" stop-color="#4cd84c"/><stop offset="1" stop-color="#18a818"/></linearGradient></defs>
<rect x="10.600" y="9.900" width="15.500" height="12.500" fill="#fff" stroke="#2c5ad8" stroke-width="1"/>
<rect x="10.100" y="9.400" width="16.500" height="2.800" fill="#3a68dc"/>
<path d="M14 18 C15 16 16 19 17.500 17.500 C18.500 16.500 19 16 20 15.400" fill="none" stroke="#e02020" stroke-width="1.100"/>
<path d="M10.700 21.800 C12 15 16 10.500 22.200 10.200 L21.900 6.100 L28 10.800 L23.800 15.400 L23.300 12.800 C18 12.800 14 16 11.400 21.800 Z" fill="url(#ga)" stroke="#1ea01e" stroke-width="0.700"/>
<path d="M21 21.300 h6 l-3 3 z" fill="#000"/>
<!-- icon2: chain + candles -->
<circle cx="39.400" cy="11.500" r="3.700" fill="#fff" stroke="#000" stroke-width="1.400"/>
<circle cx="39.400" cy="20.300" r="3.700" fill="#fff" stroke="#000" stroke-width="1.400"/>
<rect x="37.700" y="11.500" width="3.400" height="8.800" fill="#fff"/>
<rect x="38.300" y="9.800" width="2.200" height="12.200" rx="1" fill="#fff" stroke="#000" stroke-width="1"/>
<rect x="48" y="10.300" width="1" height="9.300" fill="#b01818"/><rect x="46.500" y="12" width="4" height="5.200" fill="#f07878" stroke="#c83030" stroke-width="1"/>
<rect x="54.200" y="5.200" width="1" height="14.400" fill="#108010"/><rect x="52.700" y="8.300" width="4" height="8" fill="#58e058" stroke="#18a018" stroke-width="1"/>
<path d="M49 21.300 h6 l-3 3 z" fill="#000"/>
<!-- icon3 -->
<rect x="68.900" y="10.300" width="11.800" height="13" fill="#fff" stroke="#000" stroke-width="1.300"/>
<rect x="81" y="11.500" width="1" height="13" fill="#888"/><rect x="70" y="24" width="12" height="1" fill="#888"/>
<path d="M71 13 h5 M72 15.500 h6 M73 18 h6 M74 20.500 h5" stroke="#000" stroke-width="1.200"/>
<path d="M70 12 L79.500 22.500" stroke="#000" stroke-width="1.200"/>
<path d="M75.500 11.500 h4.500 l-2.200 3 z" fill="#f06060"/>
<path d="M70 22.800 h5 l-2.500 -3.300 z" fill="#30c040"/>
<!-- icon4 stacked bars -->
<g>
<rect x="95.5" y="9.5" width="14" height="2.200" fill="#707070"/><rect x="94.5" y="8.6" width="8" height="2.100" fill="#44cc50"/><rect x="102.5" y="8.6" width="6" height="2.100" fill="#f08888"/>
<rect x="98.5" y="12.6" width="14" height="2.200" fill="#707070"/><rect x="97.5" y="11.7" width="5" height="2.100" fill="#44cc50"/><rect x="102.5" y="11.7" width="9" height="2.100" fill="#f08888"/>
<rect x="96.5" y="15.7" width="13" height="2.200" fill="#707070"/><rect x="95.5" y="14.8" width="7" height="2.100" fill="#44cc50"/><rect x="102.5" y="14.8" width="6" height="2.100" fill="#f08888"/>
<rect x="98.5" y="18.8" width="14" height="2.200" fill="#707070"/><rect x="97.5" y="17.9" width="5" height="2.100" fill="#44cc50"/><rect x="102.5" y="17.9" width="9" height="2.100" fill="#f08888"/>
<rect x="95.5" y="21.9" width="13" height="2.200" fill="#707070"/><rect x="94.5" y="21.0" width="8" height="2.100" fill="#44cc50"/><rect x="102.5" y="21.0" width="5" height="2.100" fill="#f08888"/>
</g>
<!-- candle wrench -->
<rect x="973.500" y="15" width="1" height="11" fill="#801010"/><rect x="971" y="17.500" width="6" height="6" fill="#f05050" stroke="#a02020" stroke-width="0.800"/>
<rect x="981" y="6.500" width="1" height="20" fill="#106010"/><rect x="978.500" y="9.500" width="6" height="14" fill="#50d850" stroke="#108010" stroke-width="0.800"/>
<path d="M972.500 22.500 L978.500 16 C977.800 13.500 979 11 982 10.500 L983 11 L980.800 13.300 L981.500 15 L983.200 14.700 L985 12.700 C985.500 15.500 984 17.500 981 17.300 L975 24 C974 25 971.800 23.800 972.500 22.500 Z" fill="#fff" stroke="#000" stroke-width="1"/>
<!-- selected zoom -->
<rect x="993" y="3" width="25" height="25" fill="#c6c8cb"/>
<defs><radialGradient id="lens" cx="0.4" cy="0.35" r="0.7"><stop offset="0" stop-color="#fff"/><stop offset="1" stop-color="#a8a8a8"/></radialGradient></defs>
<path d="M1006.500 17 L1014 24" stroke="#000" stroke-width="3" stroke-linecap="round"/>
<circle cx="1003" cy="13.400" r="5" fill="url(#lens)" stroke="#303030" stroke-width="1.300"/>
<path d="M1013.500 9.500 v8 M1011.300 11.300 l2.200 -2.800 l2.200 2.800 M1011.300 15.700 l2.200 2.800 l2.200 -2.800" stroke="#1030f0" stroke-width="1.300" fill="none"/>
<path d="M998 22 h8 M999.800 19.800 l-2.800 2.200 l2.800 2.200 M1004.200 19.800 l2.800 2.200 l-2.800 2.200" stroke="#1030f0" stroke-width="1.300" fill="none"/>
<!-- zoom out -->
<path d="M1035.500 17 L1042 24" stroke="#000" stroke-width="3" stroke-linecap="round"/>
<circle cx="1032" cy="13.400" r="5" fill="#fff" stroke="#202020" stroke-width="1.300"/>
<rect x="1029" y="12.600" width="6" height="1.600" fill="#1030f0"/>
<!-- zoom in -->
<path d="M1063.500 17 L1070 24" stroke="#000" stroke-width="3" stroke-linecap="round"/>
<circle cx="1060" cy="13.400" r="5" fill="#fff" stroke="#202020" stroke-width="1.300"/>
<rect x="1057" y="12.600" width="6" height="1.600" fill="#1030f0"/><rect x="1059.200" y="10.400" width="1.600" height="6" fill="#1030f0"/>

</svg>
</body></html>
